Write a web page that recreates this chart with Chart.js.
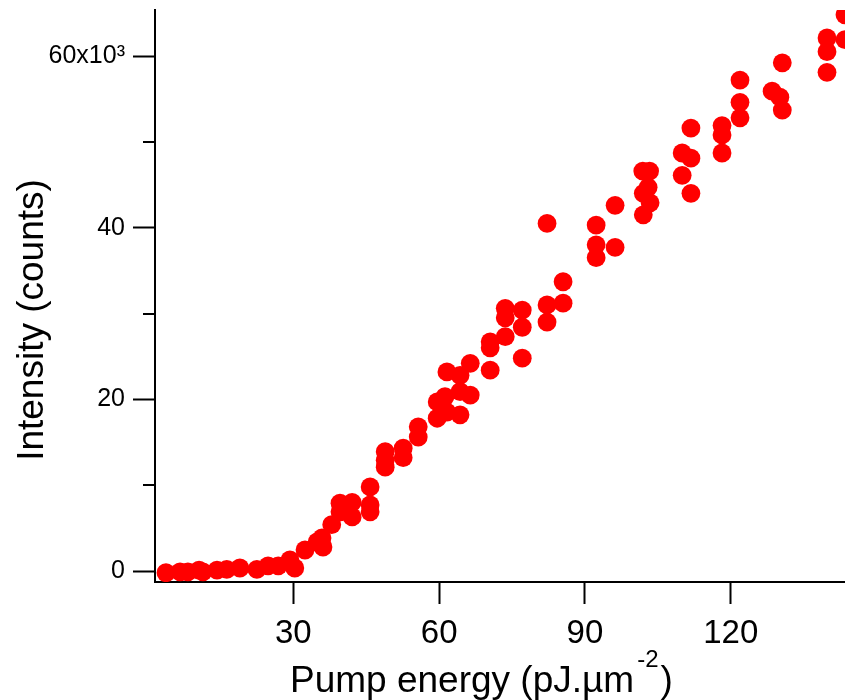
<!DOCTYPE html>
<html>
<head>
<meta charset="utf-8">
<script src="https://cdn.jsdelivr.net/npm/chart.js@4/dist/chart.umd.min.js"></script>
<style>
  body { margin: 0; background: #fff; }
  #wrap { width: 845px; height: 700px; }
</style>
</head>
<body>
<div id="wrap"><canvas id="chart" width="845" height="700"></canvas></div>
<script>
// pump energy (pJ.um^-2) and intensity (x10^3 counts)
const energy = [
  3.8, 6.7, 8.3, 10.6, 11.4, 14.3, 16.3, 19.0, 22.5, 24.8, 26.9, 29.3, 30.3,
  32.4, 34.9, 35.9, 36.1, 37.9, 39.6, 39.6, 42.1, 42.1, 45.8, 45.8, 45.8,
  48.9, 48.9, 48.9, 52.6, 52.6, 55.7, 55.7, 59.6, 59.6, 61.2, 61.6, 61.6,
  64.3, 64.3, 64.3, 66.4, 66.4, 70.5, 70.5, 70.5, 73.6, 73.6, 73.6,
  77.1, 77.1, 77.1, 82.2, 82.2, 82.2, 85.5, 85.5, 92.3, 92.3, 92.3,
  96.2, 96.2, 102.0, 103.4, 103.0, 102.0, 101.9, 103.3,
  110.0, 110.0, 111.8, 111.8, 111.8, 118.2, 118.2, 118.2,
  121.9, 121.9, 121.9, 128.5, 130.1, 130.6, 130.6, 139.8, 139.8, 139.8,
  143.5, 143.5
];
const intensity = [
  -0.2, -0.1, -0.1, 0.1, -0.1, 0.1, 0.2, 0.35, 0.2, 0.6, 0.6, 1.3, 0.35,
  2.45, 3.4, 3.85, 2.8, 5.4, 7.9, 6.9, 8.0, 6.3, 9.8, 7.7, 6.9,
  13.9, 12.9, 12.1, 14.3, 13.2, 16.8, 15.6, 19.7, 17.8, 20.3, 18.5, 23.2,
  20.9, 18.2, 22.8, 24.2, 20.5, 26.7, 26.0, 23.4, 30.6, 29.5, 27.3,
  30.4, 28.4, 24.8, 40.5, 31.0, 29.0, 33.7, 31.2, 40.3, 38.0, 36.5,
  42.6, 37.7, 41.5, 42.9, 44.7, 44.0, 46.6, 46.6,
  48.7, 46.1, 48.1, 44.0, 51.6, 51.9, 50.8, 48.7,
  57.2, 54.6, 52.8, 55.9, 55.2, 53.7, 59.2, 62.1, 60.5, 58.1,
  64.8, 61.9
];
const xTicks = [30, 60, 90, 120];
const yTicks = [0, 20, 40, 60];
const yMinorTicks = [10, 30, 50];
const xRange = [1.54, 143.5];
const yRange = [-1.28, 65.36];

const FONT = '"Liberation Sans", Arial, Helvetica, sans-serif';

const points = energy.map((e, i) => ({ x: e, y: intensity[i] }));

// minor ticks on y and the two axis titles
const decorations = {
  id: 'decorations',
  afterDraw(chart) {
    const ctx = chart.ctx;
    const y = chart.scales.y;
    const left = chart.chartArea.left;
    ctx.save();
    ctx.strokeStyle = '#000';
    ctx.lineWidth = 2;
    yMinorTicks.forEach(v => {
      const py = Math.round(y.getPixelForValue(v));
      ctx.beginPath();
      ctx.moveTo(left - 12, py);
      ctx.lineTo(left, py);
      ctx.stroke();
    });

    ctx.fillStyle = '#000';
    // y title
    ctx.save();
    ctx.translate(33, 320);
    ctx.rotate(-Math.PI / 2);
    ctx.font = '37px ' + FONT;
    ctx.textAlign = 'center';
    ctx.textBaseline = 'middle';
    ctx.fillText('Intensity (counts)', 0, 0);
    ctx.restore();

    // x title with superscript
    ctx.textAlign = 'left';
    ctx.textBaseline = 'alphabetic';
    let x = 290;
    const base = 692;
    ctx.font = '37px ' + FONT;
    const main = 'Pump energy (pJ.µm';
    ctx.fillText(main, x, base);
    x += ctx.measureText(main).width + 3;
    ctx.font = '24px ' + FONT;
    ctx.fillText('-2', x, base - 25);
    x += ctx.measureText('-2').width + 2;
    ctx.font = '37px ' + FONT;
    ctx.fillText(')', x, base);
    ctx.restore();
  }
};

new Chart(document.getElementById('chart'), {
  type: 'scatter',
  data: {
    datasets: [{
      data: points,
      backgroundColor: '#ff0000',
      borderWidth: 0,
      pointRadius: 9.4,
      pointHoverRadius: 9.4
    }]
  },
  options: {
    responsive: false,
    animation: false,
    events: [],
    layout: { autoPadding: false, padding: { top: 10, right: 0, left: 0, bottom: 0 } },
    plugins: { legend: { display: false }, tooltip: { enabled: false } },
    scales: {
      x: {
        type: 'linear',
        min: xRange[0],
        max: xRange[1],
        afterBuildTicks: s => { s.ticks = xTicks.map(v => ({ value: v })); },
        afterFit: s => {
          s.height = 118;
          s.paddingLeft = 0; s.paddingRight = 0; s.paddingTop = 0; s.paddingBottom = 0;
        },
        border: { display: true, color: '#000', width: 2 },
        grid: { drawOnChartArea: false, drawTicks: true, tickLength: 22, tickWidth: 2, tickColor: '#000' },
        ticks: { color: '#000', font: { family: FONT, size: 33 }, padding: 10, maxRotation: 0, autoSkip: false }
      },
      y: {
        type: 'linear',
        min: yRange[0],
        max: yRange[1],
        afterBuildTicks: s => { s.ticks = yTicks.map(v => ({ value: v })); },
        afterFit: s => {
          s.width = 155;
          s.paddingLeft = 0; s.paddingRight = 0; s.paddingTop = 0; s.paddingBottom = 0;
        },
        border: { display: true, color: '#000', width: 2 },
        grid: { drawOnChartArea: false, drawTicks: true, tickLength: 22, tickWidth: 2, tickColor: '#000' },
        ticks: {
          color: '#000',
          font: { family: FONT, size: 25 },
          padding: 8,
          autoSkip: false,
          callback: v => (v === 60 ? '60x10³' : String(v))
        }
      }
    }
  },
  plugins: [decorations]
});
</script>
</body>
</html>
